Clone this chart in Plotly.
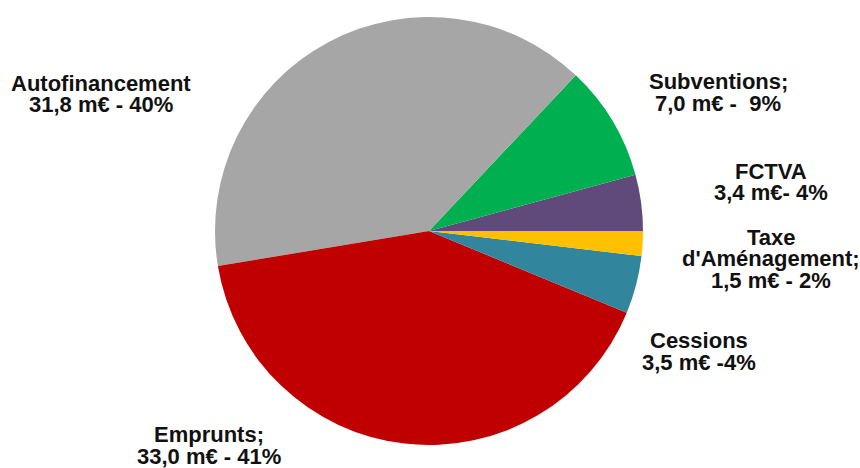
import plotly.graph_objects as go

categories = ["FCTVA", "Subventions", "Autofinancement", "Emprunts", "Cessions", "Taxe d'Aménagement"]
values = [3.4, 7.0, 31.8, 33.0, 3.5, 1.5]
colors = ["#604A7B", "#00B050", "#A6A6A6", "#C00000", "#31859C", "#FFC000"]

# label lines as displayed next to each slice
label_lines = {
    "FCTVA": ["FCTVA", "3,4 m€- 4%"],
    "Subventions": ["Subventions;", "7,0 m€ -  9%"],
    "Autofinancement": ["Autofinancement", "31,8 m€ - 40%"],
    "Emprunts": ["Emprunts;", "33,0 m€ - 41%"],
    "Cessions": ["Cessions", "3,5 m€ -4%"],
    "Taxe d'Aménagement": ["Taxe", "d'Aménagement;", "1,5 m€ - 2%"],
}
# label line centre positions in pixels (x, [y per line])
label_pos = {
    "FCTVA": (771, [171, 192]),
    "Subventions": (718, [81, 103]),
    "Autofinancement": (101, [83, 105]),
    "Emprunts": (209, [434, 456]),
    "Cessions": (699, [340, 362]),
    "Taxe d'Aménagement": (771, [237, 258, 280]),
}

W, H = 860, 468
cx, cy, r = 429, 231, 214

# first slice (FCTVA) sits just above the 3 o'clock line
rotation = 90 - values[0] / sum(values) * 360

fig = go.Figure(go.Pie(
    labels=categories,
    values=values,
    marker=dict(colors=colors, line=dict(width=0)),
    sort=False,
    direction="counterclockwise",
    rotation=rotation,
    textinfo="none",
    hoverinfo="label+value+percent",
    showlegend=False,
    domain=dict(x=[(cx - r) / W, (cx + r) / W], y=[(H - cy - r) / H, (H - cy + r) / H]),
))

annotations = []
for cat in categories:
    x, ys = label_pos[cat]
    for line, y in zip(label_lines[cat], ys):
        annotations.append(dict(
            x=x / W, y=1 - y / H, xref="paper", yref="paper",
            text=line, showarrow=False, xanchor="center", yanchor="middle",
            borderpad=0,
            font=dict(family="Liberation Sans, Arial, sans-serif", size=22, color="#111111", weight=700),
        ))

fig.update_layout(
    width=W, height=H,
    margin=dict(l=0, r=0, t=0, b=0),
    paper_bgcolor="white", plot_bgcolor="white",
    annotations=annotations,
)

fig.write_html("out.html")
